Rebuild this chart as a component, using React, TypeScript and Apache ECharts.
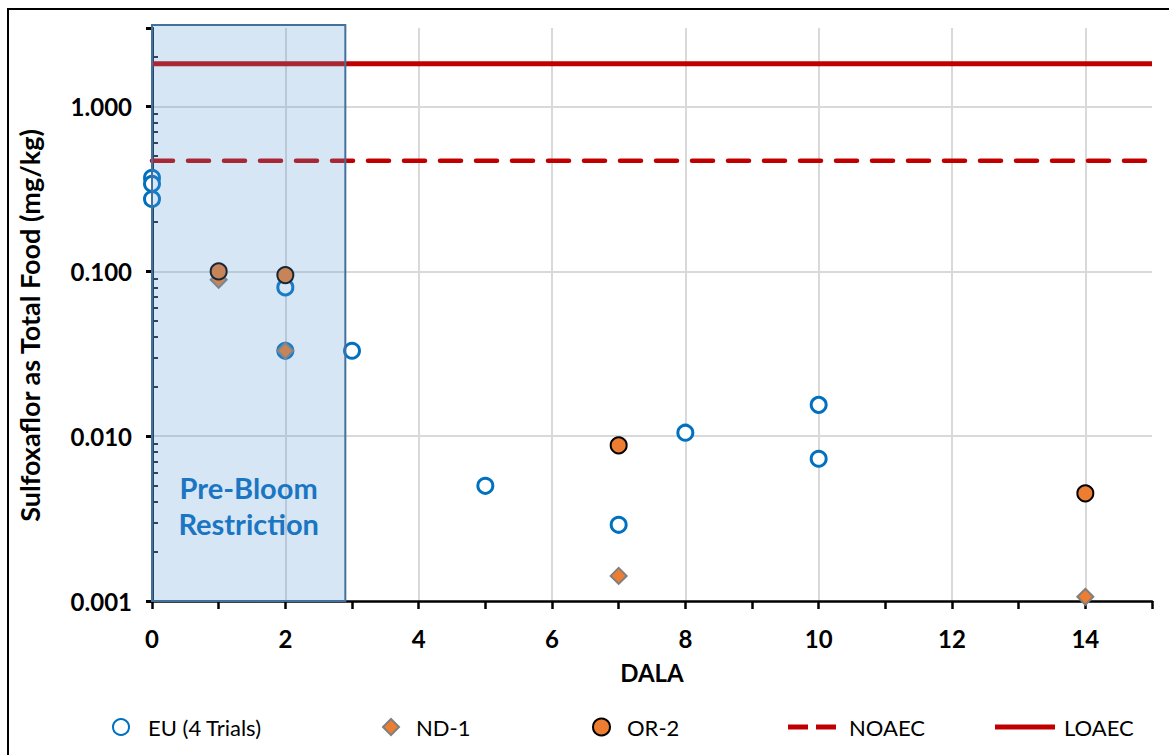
import React, { useEffect, useRef } from "react";
import * as echarts from "echarts";

// Axis ranges
const X_MIN = 0;
const X_MAX = 15;
const Y_MIN = 0.001;
const Y_MAX = 3;

// Residue data: [DALA, mg/kg]
const euTrials: [number, number][] = [
  [0, 0.37],
  [0, 0.34],
  [0, 0.275],
  [2, 0.08],
  [2, 0.033],
  [3, 0.033],
  [5, 0.005],
  [7, 0.0029],
  [8, 0.0105],
  [10, 0.0155],
  [10, 0.0073],
];
const nd1: [number, number][] = [
  [1, 0.089],
  [2, 0.033],
  [7, 0.00142],
  [14, 0.00106],
];
const or2: [number, number][] = [
  [1, 0.1],
  [2, 0.095],
  [7, 0.0088],
  [14, 0.0045],
];

// Effect thresholds
const NOAEC = 0.47;
const LOAEC = 1.82;

// Pre-bloom window [start DALA, end DALA]
const preBloom: [number, number] = [0, 2.9];

const FONT = "Lato, 'Open Sans', sans-serif";
const RED = "#C00000";

export default function App() {
  const ref = useRef<HTMLDivElement>(null);

  useEffect(() => {
    if (!ref.current) return;
    const chart = echarts.init(ref.current, undefined, { renderer: "svg" });

    const legendText = { fontFamily: FONT, fontSize: 22, color: "#000" };

    chart.setOption({
      animation: false,
      backgroundColor: "#fff",
      graphic: [
        {
          type: "rect",
          shape: { x: 8, y: 9, width: 1200, height: 800 },
          style: { fill: "none", stroke: "#000", lineWidth: 2 },
          silent: true,
        },
      ],
      grid: { left: 152, right: 17, top: 28, bottom: 154, containLabel: false },
      legend: [
        { data: [{ name: "EU (4 Trials)", icon: "circle" }], left: 107, itemWidth: 16, itemHeight: 16, pad: 14 },
        { data: [{ name: "ND-1", icon: "diamond" }], left: 377, itemWidth: 16, itemHeight: 16, pad: 12 },
        { data: [{ name: "OR-2", icon: "circle" }], left: 587, itemWidth: 17, itemHeight: 17, pad: 12 },
        {
          data: [{ name: "NOAEC", icon: "path://M0,0H20V5H0Z M28,0H48V5H28Z" }],
          left: 783,
          itemWidth: 48,
          itemHeight: 5,
          pad: 8,
        },
        { data: [{ name: "LOAEC", icon: "rect" }], left: 990, itemWidth: 60, itemHeight: 5, pad: 4 },
      ].map(({ pad, ...l }) => ({
        ...l,
        top: 711,
        orient: "horizontal",
        textStyle: { ...legendText, padding: [0, 0, 0, pad] },
        selectedMode: false,
      })),
      xAxis: [
        {
          type: "value",
          min: X_MIN,
          max: X_MAX,
          interval: 1,
          position: "bottom",
          name: "DALA",
          nameLocation: "middle",
          nameGap: 59,
          nameTextStyle: { fontFamily: FONT, fontSize: 24, fontWeight: "bold", color: "#000" },
          axisLine: { show: true, onZero: false, lineStyle: { color: "#000", width: 2.5 } },
          axisTick: { show: true, length: 8, lineStyle: { color: "#000", width: 2.5 } },
          axisLabel: {
            margin: 25,
            fontFamily: FONT,
            fontSize: 24,
            fontWeight: "bold",
            color: "#000",
            formatter: (v: number) => (v % 2 === 0 && v < X_MAX ? String(v) : ""),
          },
          splitLine: { show: false },
        },
        {
          // carries the vertical gridlines every 2 days
          type: "value",
          min: X_MIN,
          max: X_MAX,
          interval: 2,
          position: "top",
          axisLine: { show: false },
          axisTick: { show: false },
          axisLabel: { show: false },
          splitLine: {
            show: true,
            showMinLine: false,
            showMaxLine: false,
            lineStyle: { color: "#D9D9D9", width: 2 },
          },
        },
      ],
      yAxis: {
        type: "log",
        logBase: 10,
        min: Y_MIN,
        max: Y_MAX,
        name: "Sulfoxaflor as Total Food (mg/kg)",
        nameLocation: "middle",
        nameGap: 109,
        nameTextStyle: {
          fontFamily: FONT,
          fontSize: 27,
          fontWeight: "bold",
          color: "#000",
          padding: [0, 22, 0, 0],
        },
        axisLine: { show: true, onZero: false, lineStyle: { color: "#1b2a3a", width: 3 } },
        axisTick: { show: true, length: 6, lineStyle: { color: "#000", width: 3 } },
        minorTick: { show: true, splitNumber: 9, length: -6, lineStyle: { color: "#1b2a3a", width: 2 } },
        axisLabel: {
          margin: 20,
          showMaxLabel: false,
          fontFamily: FONT,
          fontSize: 24,
          fontWeight: "bold",
          color: "#000",
          formatter: (v: number) => v.toFixed(3),
        },
        splitLine: {
          show: true,
          showMinLine: false,
          showMaxLine: false,
          lineStyle: { color: "#D9D9D9", width: 2 },
        },
        minorSplitLine: { show: false },
      },
      series: [
        {
          name: "EU (4 Trials)",
          type: "scatter",
          xAxisIndex: 0,
          data: euTrials,
          symbol: "circle",
          symbolSize: 15,
          itemStyle: { color: "#fff", borderColor: "#0070C0", borderWidth: 3, opacity: 1 },
          z: 2,
        },
        {
          name: "ND-1",
          type: "scatter",
          xAxisIndex: 0,
          data: nd1,
          symbol: "diamond",
          symbolSize: 16,
          itemStyle: { color: "#ED7D31", borderColor: "#7F7F7F", borderWidth: 2, opacity: 1 },
          z: 3,
        },
        {
          name: "OR-2",
          type: "scatter",
          xAxisIndex: 0,
          data: or2,
          symbol: "circle",
          symbolSize: 16,
          itemStyle: { color: "#ED7D31", borderColor: "#000", borderWidth: 2, opacity: 1 },
          z: 4,
        },
        {
          name: "NOAEC",
          type: "line",
          xAxisIndex: 0,
          data: [
            [X_MIN, NOAEC],
            [X_MAX, NOAEC],
          ],
          symbol: "none",
          lineStyle: { color: RED, width: 4.5, type: [21, 15], cap: "round" },
          itemStyle: { color: RED },
          z: 5,
        },
        {
          name: "LOAEC",
          type: "line",
          xAxisIndex: 0,
          data: [
            [X_MIN, LOAEC],
            [X_MAX, LOAEC],
          ],
          symbol: "none",
          lineStyle: { color: RED, width: 5 },
          itemStyle: { color: RED },
          z: 5,
        },
        {
          // translucent pre-bloom restriction window drawn over the data
          type: "custom",
          xAxisIndex: 0,
          data: [preBloom],
          z: 10,
          silent: true,
          renderItem: (_params: any, api: any) => {
            const start = api.value(0);
            const end = api.value(1);
            const pBottom = api.coord([start, Y_MIN]);
            const pTop = api.coord([end, Y_MAX]);
            const top = pTop[1] - 3;
            return {
              type: "group",
              children: [
                {
                  type: "rect",
                  shape: {
                    x: pBottom[0],
                    y: top,
                    width: pTop[0] - pBottom[0],
                    height: pBottom[1] - top,
                  },
                  style: {
                    fill: "rgba(91,155,213,0.25)",
                    stroke: "#41719C",
                    lineWidth: 2,
                  },
                },
                {
                  type: "text",
                  x: (pBottom[0] + pTop[0]) / 2,
                  y: pBottom[1] - 96,
                  style: {
                    text: "Pre-Bloom\nRestriction",
                    fill: "#1A75C2",
                    font: `bold 29px ${FONT}`,
                    lineHeight: 36,
                    align: "center",
                    verticalAlign: "middle",
                  },
                },
              ],
            };
          },
        },
      ],
    });

    return () => chart.dispose();
  }, []);

  return (
    <div
      ref={ref}
      style={{
        position: "fixed",
        left: 0,
        top: 0,
        width: 1169,
        height: 755,
        background: "#fff",
      }}
    />
  );
}
